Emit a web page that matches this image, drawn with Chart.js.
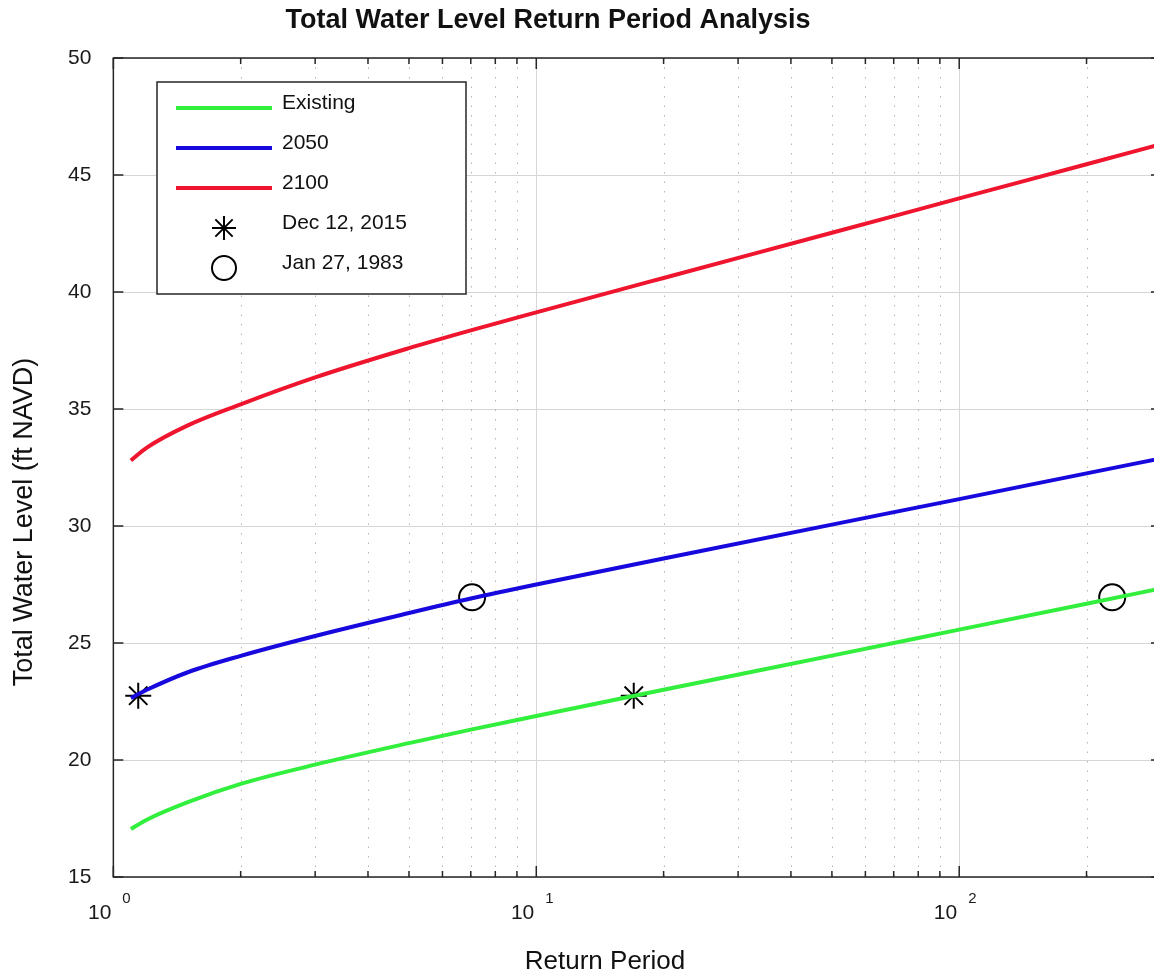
<!DOCTYPE html>
<html>
<head>
<meta charset="utf-8">
<script src="https://cdn.jsdelivr.net/npm/chart.js@4.4.1/dist/chart.umd.min.js"></script>
<style>
  html, body { margin: 0; padding: 0; background: #fff; overflow: hidden; }
  #wrap { width: 1176px; height: 975px; position: relative; }
</style>
</head>
<body>
<div id="wrap"><canvas id="twlChart"></canvas></div>
<script>
// Return periods (years) and total water levels (ft NAVD)
const returnPeriods  = [1.1, 1.2, 1.5, 2, 3, 5, 7, 10, 20, 50, 100, 200, 300];
const existingLevels = [17.05, 17.45, 18.20, 18.98, 19.80, 20.72, 21.30, 21.88, 23.00, 24.46, 25.57, 26.68, 27.33];
const levels2050     = [22.65, 23.00, 23.75, 24.45, 25.30, 26.28, 26.90, 27.50, 28.61, 30.06, 31.15, 32.25, 32.89];
const levels2100     = [32.80, 33.35, 34.30, 35.20, 36.35, 37.60, 38.36, 39.13, 40.60, 42.53, 44.00, 45.46, 46.32];

// observed events
const dec2015Periods = [1.145, 17.0];
const dec2015Levels  = [22.75, 22.75];
const jan1983Periods = [7.05, 230];
const jan1983Levels  = [26.95, 26.95];

const xMin = 1, xMax = 300;
const yMin = 15, yMax = 50, yStep = 5;
const fontFamily = "'Liberation Sans', Arial, Helvetica, sans-serif";
const chartTitle = 'Total Water Level Return Period Analysis';
const xTitle = 'Return Period';
const yTitle = 'Total Water Level (ft NAVD)';

function toPoints(xs, ys) {
  return xs.map((x, i) => ({ x: x, y: ys[i] }));
}

function curve(label, color, ys) {
  return {
    label: label,
    data: toPoints(returnPeriods, ys),
    showLine: true,
    borderColor: color,
    backgroundColor: color,
    borderWidth: 4,
    pointRadius: 0,
    cubicInterpolationMode: 'monotone',
    fill: false
  };
}

function drawMarker(ctx, style, mx, my, r) {
  ctx.beginPath();
  if (style === 'star') {
    const q = r * 0.72;
    ctx.moveTo(mx - r, my); ctx.lineTo(mx + r, my);
    ctx.moveTo(mx, my - r); ctx.lineTo(mx, my + r);
    ctx.moveTo(mx - q, my - q); ctx.lineTo(mx + q, my + q);
    ctx.moveTo(mx + q, my - q); ctx.lineTo(mx - q, my + q);
  } else {
    ctx.arc(mx, my, r, 0, Math.PI * 2);
  }
  ctx.stroke();
}

// grid, frame with inward ticks, 10^n labels, titles and the boxed legend
const matlabAxes = {
  id: 'matlabAxes',
  beforeDatasetsDraw(chart) {
    const { ctx, chartArea: a, scales: { x } } = chart;
    ctx.save();
    ctx.lineWidth = 1;
    for (let dec = 1; dec <= xMax; dec *= 10) {
      for (let m = 1; m <= 9; m++) {
        const v = dec * m;
        if (v < xMin || v > xMax) continue;
        const px = Math.round(x.getPixelForValue(v)) + 0.5;
        ctx.beginPath();
        if (m === 1) {
          ctx.strokeStyle = '#d6d6d6';
          ctx.setLineDash([]);
        } else {
          ctx.strokeStyle = '#b4b4b4';
          ctx.setLineDash([1.5, 8]);
        }
        ctx.moveTo(px, a.top);
        ctx.lineTo(px, a.bottom);
        ctx.stroke();
      }
    }
    ctx.restore();
  },
  afterDatasetsDraw(chart) {
    const { ctx, chartArea: a, scales: { x, y } } = chart;
    ctx.save();
    ctx.strokeStyle = '#262626';
    ctx.lineWidth = 1.5;
    ctx.setLineDash([]);
    ctx.strokeRect(a.left, a.top, a.right - a.left, a.bottom - a.top);

    // x ticks (top and bottom)
    for (let dec = 1; dec <= xMax; dec *= 10) {
      for (let m = 1; m <= 9; m++) {
        const v = dec * m;
        if (v < xMin || v > xMax) continue;
        const px = x.getPixelForValue(v);
        const len = m === 1 ? 11 : 6;
        ctx.beginPath();
        ctx.moveTo(px, a.bottom); ctx.lineTo(px, a.bottom - len);
        ctx.moveTo(px, a.top); ctx.lineTo(px, a.top + len);
        ctx.stroke();
      }
    }
    // y ticks (left and right)
    for (let v = yMin; v <= yMax; v += yStep) {
      const py = y.getPixelForValue(v);
      ctx.beginPath();
      ctx.moveTo(a.left, py); ctx.lineTo(a.left + 10, py);
      ctx.moveTo(a.right, py); ctx.lineTo(a.right - 10, py);
      ctx.stroke();
    }

    // 10^n labels
    ctx.fillStyle = '#1a1a1a';
    ctx.textBaseline = 'middle';
    for (let n = 0; Math.pow(10, n) <= xMax; n++) {
      const px = x.getPixelForValue(Math.pow(10, n));
      ctx.font = '21px ' + fontFamily;
      ctx.textAlign = 'right';
      ctx.fillText('10', px - 2, a.bottom + 36);
      ctx.font = '15px ' + fontFamily;
      ctx.textAlign = 'left';
      ctx.fillText(String(n), px + 9, a.bottom + 22);
    }
    ctx.restore();
  },
  afterDraw(chart) {
    const { ctx } = chart;
    const ds = chart.data.datasets;

    // titles
    ctx.save();
    ctx.fillStyle = '#111';
    ctx.textAlign = 'center';
    ctx.textBaseline = 'middle';
    ctx.font = 'bold 27px ' + fontFamily;
    ctx.fillText(chartTitle, 548, 21);
    ctx.font = '26px ' + fontFamily;
    ctx.fillText(xTitle, 605, 962);
    ctx.translate(25, 522);
    ctx.rotate(-Math.PI / 2);
    ctx.font = '27px ' + fontFamily;
    ctx.fillText(yTitle, 0, 0);
    ctx.restore();

    // legend box
    const bx = 157, by = 82, bw = 309, bh = 212;
    ctx.save();
    ctx.fillStyle = '#fff';
    ctx.fillRect(bx, by, bw, bh);
    ctx.strokeStyle = '#262626';
    ctx.lineWidth = 1.5;
    ctx.strokeRect(bx, by, bw, bh);

    ctx.font = '21px ' + fontFamily;
    ctx.textAlign = 'left';
    ctx.textBaseline = 'middle';
    ds.forEach((d, i) => {
      const cy = by + 26 + i * 40;
      if (d.showLine) {
        ctx.strokeStyle = d.borderColor;
        ctx.lineWidth = 4;
        ctx.beginPath();
        ctx.moveTo(bx + 19, cy); ctx.lineTo(bx + 115, cy);
        ctx.stroke();
      } else {
        ctx.strokeStyle = '#000';
        ctx.lineWidth = 2;
        drawMarker(ctx, d.pointStyle, bx + 67, cy, 12);
      }
      ctx.fillStyle = '#111';
      ctx.fillText(d.label, bx + 125, cy - 5);
    });
    ctx.restore();
  }
};

new Chart(document.getElementById('twlChart'), {
  type: 'scatter',
  data: {
    datasets: [
      curve('Existing', '#33ef3d', existingLevels),
      curve('2050', '#1708de', levels2050),
      curve('2100', '#f0152e', levels2100),
      {
        label: 'Dec 12, 2015',
        data: toPoints(dec2015Periods, dec2015Levels),
        showLine: false,
        pointStyle: 'star',
        pointRadius: 13,
        borderColor: '#000',
        backgroundColor: 'rgba(0,0,0,0)',
        borderWidth: 2
      },
      {
        label: 'Jan 27, 1983',
        data: toPoints(jan1983Periods, jan1983Levels),
        showLine: false,
        pointStyle: 'circle',
        pointRadius: 13,
        borderColor: '#000',
        backgroundColor: 'rgba(0,0,0,0)',
        borderWidth: 2
      }
    ]
  },
  options: {
    responsive: true,
    maintainAspectRatio: false,
    animation: false,
    layout: { padding: { top: 58, left: 46, right: 10, bottom: 98 } },
    plugins: {
      legend: { display: false },
      tooltip: { enabled: false },
      title: { display: false }
    },
    scales: {
      x: {
        type: 'logarithmic',
        min: xMin,
        max: xMax,
        grid: { display: false, drawTicks: false },
        border: { display: false },
        ticks: { display: false },
        title: { display: false }
      },
      y: {
        min: yMin,
        max: yMax,
        grid: { color: '#d6d6d6', lineWidth: 1, drawTicks: false },
        border: { display: false },
        ticks: {
          stepSize: yStep,
          padding: 22,
          color: '#1a1a1a',
          font: { family: fontFamily, size: 21 }
        },
        title: { display: false }
      }
    }
  },
  plugins: [matlabAxes]
});
</script>
</body>
</html>
